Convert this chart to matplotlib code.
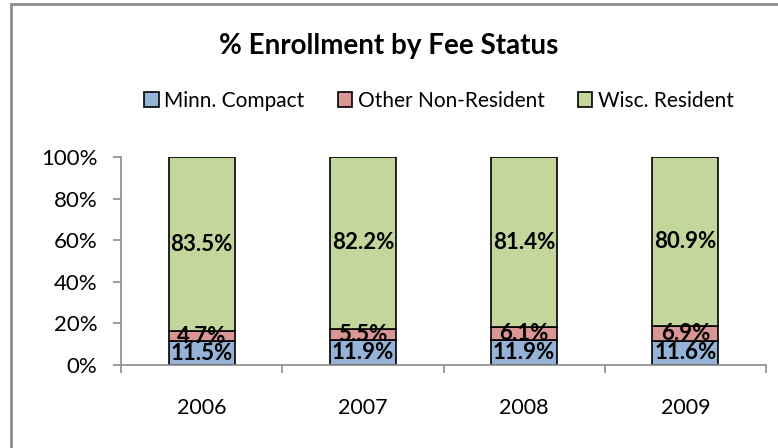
import matplotlib.pyplot as plt
import matplotlib.patches as mpatches
import numpy as np

years = ["2006", "2007", "2008", "2009"]
minn = [11.5, 11.9, 11.9, 11.6]
other = [4.7, 5.5, 6.1, 6.9]
wisc = [83.5, 82.2, 81.4, 80.9]
series_names = ["Minn. Compact", "Other Non-Resident", "Wisc. Resident"]
colors = ["#95B3D7", "#D99694", "#C3D69B"]

plt.rcParams["font.family"] = ["Lato", "DejaVu Sans"]

fig = plt.figure(figsize=(7.78, 4.48), dpi=100)
ax = fig.add_axes([121 / 778, 83 / 448, 645 / 778, 208 / 448])

# chart border
fig.patches.append(mpatches.Rectangle((11 / 778, -0.1), 1.0, 1.1 - 4 / 448,
                                      transform=fig.transFigure, fill=False,
                                      edgecolor="#8C8C8C", linewidth=2))

x = np.arange(len(years))
data = np.array([minn, other, wisc])
totals = data.sum(axis=0)
shares = data / totals * 100
bottom = np.zeros(len(years))
for i in range(3):
    ax.bar(x, shares[i], 0.41, bottom=bottom, color=colors[i],
           edgecolor="black", linewidth=1.2, label=series_names[i])
    for j in range(len(years)):
        ax.text(x[j], bottom[j] + shares[i][j] / 2, f"{data[i][j]:.1f}%",
                ha="center", va="center", fontsize=16, fontweight="bold")
    bottom += shares[i]

ax.set_xlim(-0.5, 3.5)
ax.set_ylim(0, 100)
ax.set_yticks(np.arange(0, 101, 20))
ax.set_yticklabels([f"{v}%" for v in range(0, 101, 20)], fontsize=16)
ax.set_xticks(x)
ax.set_xticklabels(years, fontsize=15.5)
ax.set_xticks(np.arange(-0.5, 4, 1), minor=True)
ax.tick_params(axis="x", which="major", length=0, pad=24)
ax.tick_params(axis="x", which="minor", length=6, color="#8C8C8C", width=1.2)
ax.tick_params(axis="y", length=6, color="#8C8C8C", width=1.2, pad=11)
for s in ["top", "right"]:
    ax.spines[s].set_visible(False)
for s in ["left", "bottom"]:
    ax.spines[s].set_color("#8C8C8C")
    ax.spines[s].set_linewidth(1.2)

fig.text(389 / 778, 1 - 46 / 448, "% Enrollment by Fee Status", ha="center",
         va="center", fontsize=20, fontweight="bold")

handles = [mpatches.Patch(facecolor=c, edgecolor="black", linewidth=1.2) for c in colors]
fig.legend(handles, series_names, loc="center", bbox_to_anchor=(439 / 778, 1 - 101 / 448),
           ncol=3, frameon=False, fontsize=15, handlelength=0.7, handleheight=0.7,
           handletextpad=0.25, columnspacing=1.6, borderaxespad=0)

fig.savefig("out.png", dpi=100)
